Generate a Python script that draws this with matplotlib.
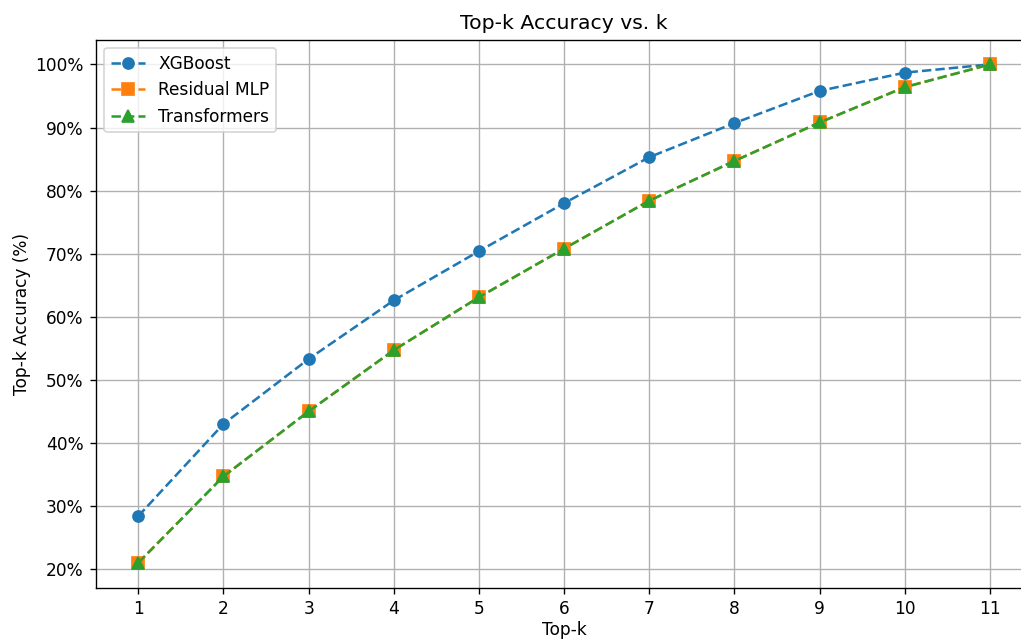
import matplotlib
matplotlib.use("Agg")
import matplotlib.pyplot as plt
from matplotlib.ticker import PercentFormatter

k = [1, 2, 3, 4, 5, 6, 7, 8, 9, 10, 11]
xgboost = [28.4, 43.0, 53.3, 62.6, 70.4, 78.0, 85.3, 90.7, 95.8, 98.7, 100.0]
residual_mlp = [21.0, 34.7, 45.0, 54.7, 63.1, 70.8, 78.4, 84.7, 90.8, 96.4, 100.0]
transformers = [21.0, 34.7, 45.0, 54.7, 63.1, 70.8, 78.4, 84.7, 90.8, 96.4, 100.0]

DPI = 122
W, H = 1021, 639
fig = plt.figure(figsize=(W / DPI, H / DPI), dpi=DPI)
left, right, top, bottom = 95.7, 1032.6, 39.5, 587.7
ax = fig.add_axes([left / W, 1 - bottom / H, (right - left) / W, (bottom - top) / H])

ax.plot(k, xgboost, linestyle='--', marker='o', markersize=6.5, color='#1f77b4', label='XGBoost')
ax.plot(k, residual_mlp, linestyle='--', marker='s', markersize=6.5, color='#ff7f0e', label='Residual MLP')
ax.plot(k, transformers, linestyle='--', marker='^', markersize=6.5, color='#2ca02c', label='Transformers')

ax.set_xticks(k)
ax.yaxis.set_major_formatter(PercentFormatter(decimals=0))
ax.set_title('Top-k Accuracy vs. k')
ax.set_xlabel('Top-k', labelpad=2)
ax.set_ylabel('Top-k Accuracy (%)', labelpad=2.5)
ax.grid(True)
ax.legend(loc='upper left')

fig.savefig('out.png', dpi=DPI)
